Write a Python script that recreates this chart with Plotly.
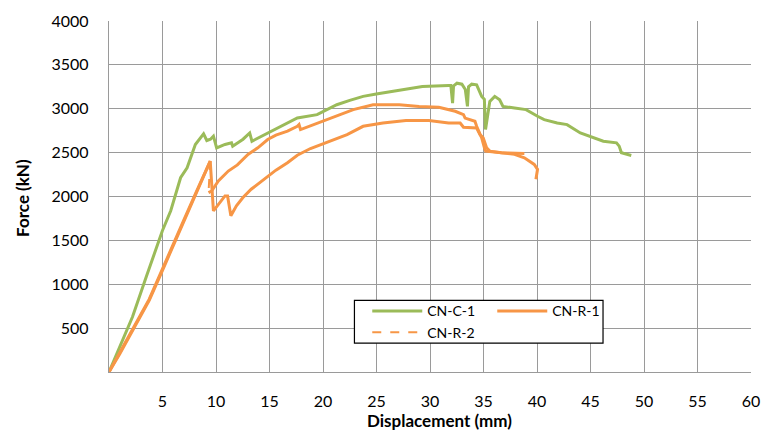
import plotly.graph_objects as go

# ---------------- data ----------------
# CN-C-1
c1_x = [0, 1.0, 2.2, 3.5, 4.99, 5.77, 6.23, 6.69, 7.30, 8.07, 8.84, 9.14, 9.48, 9.76, 10.06,
        10.84, 11.45, 11.56, 12.53, 13.15, 13.36, 14.1, 15.14, 16.4, 17.6, 19.45, 21.29, 22.5,
        23.75, 24.98, 26.83, 29.29, 31.74, 31.95, 32.11, 32.2, 32.52, 32.98, 33.3, 33.5, 33.6,
        33.9, 34.36, 34.83, 35.08, 35.19, 35.59, 36.05, 36.51, 36.82, 37.9, 38.98, 40.05,
        40.67, 41.89, 42.81, 44.05, 45.28, 46.2, 47.43, 47.68, 47.89, 48.81]
c1_y = [0, 290, 630, 1090, 1610, 1837, 2026, 2214, 2327, 2593, 2713, 2638, 2653, 2687, 2554,
        2593, 2611, 2574, 2653, 2724, 2630, 2676, 2744, 2820, 2895, 2933, 3046, 3095,
        3141, 3167, 3205, 3254, 3265, 3265, 3065, 3260, 3291, 3280, 3220, 3027, 3250,
        3280, 3273, 3141, 3107, 2763, 3084, 3141, 3103, 3027, 3008, 2990, 2914,
        2876, 2838, 2819, 2724, 2668, 2630, 2611, 2574, 2498, 2468]

# CN-R-1
r1_x = [0, 1.0, 2.22, 3.76, 4.99, 6.0, 6.99, 8.2, 9.46, 9.76, 10.3, 10.84, 11.08, 11.39,
        11.91, 12.5, 13.29, 13.91, 14.83, 15.6, 16.68, 17.6, 18.83, 20.67, 22.25, 23.75,
        25.6, 27.75, 29.9, 31.74, 32.82, 33.13, 34.36, 34.67, 34.97, 35.29, 35.59, 36.67,
        37.9, 38.82, 39.74, 40.05, 39.9]
r1_y = [0, 205, 476, 816, 1156, 1440, 1723, 2060, 2404, 1837, 1925, 2007, 2007, 1780,
        1893, 1985, 2083, 2140, 2234, 2300, 2384, 2470, 2547, 2630, 2706, 2800,
        2838, 2865, 2865, 2838, 2838, 2789, 2781, 2706, 2668, 2555, 2517, 2498,
        2480, 2441, 2366, 2310, 2196]

# CN-R-2
r2_pre_x = [0, 1.0, 2.22, 3.76, 4.99, 6.0, 6.99, 8.2, 9.46]
r2_pre_y = [0, 215, 490, 830, 1165, 1450, 1730, 2065, 2404]
r2_drop_x = [9.46, 9.3]
r2_drop_y = [2404, 2044]
r2_post_x = [9.3, 9.6, 10.22, 11.15, 12.0, 12.99, 13.91, 14.83, 15.6, 16.68, 17.6, 17.76,
             17.9, 19.14, 20.99, 22.83, 24.68, 27.13, 28.98, 30.82, 32.36, 33.13, 33.28,
             34.2, 34.36, 34.83, 35.13, 35.2, 36.67, 37.9, 38.82]
r2_post_y = [2044, 2063, 2177, 2290, 2360, 2480, 2555, 2649, 2700, 2744, 2800, 2820,
             2763, 2820, 2914, 2990, 3046, 3046, 3027, 3016, 2971, 2933, 2894,
             2857, 2800, 2668, 2536, 2517, 2498, 2490, 2490]

x_ticks = [5, 10, 15, 20, 25, 30, 35, 40, 45, 50, 55, 60]
y_ticks = [500, 1000, 1500, 2000, 2500, 3000, 3500, 4000]

GREEN = "#9BBB59"
ORANGE = "#F79646"
FONT = "Lato"
LW = 3

fig = go.Figure()
fig.add_trace(go.Scatter(x=c1_x, y=c1_y, mode="lines", name="CN-C-1",
                         line=dict(color=GREEN, width=LW), legendgroup="a"))
fig.add_trace(go.Scatter(x=r1_x, y=r1_y, mode="lines", name="CN-R-1",
                         line=dict(color=ORANGE, width=LW), legendgroup="b"))
fig.add_trace(go.Scatter(x=r2_drop_x, y=r2_drop_y, mode="lines", name="CN-R-2",
                         line=dict(color=ORANGE, width=2, dash="dash"), legendgroup="a"))
fig.add_trace(go.Scatter(x=r2_pre_x, y=r2_pre_y, mode="lines", name="CN-R-2",
                         line=dict(color=ORANGE, width=LW), legendgroup="a", showlegend=False))
fig.add_trace(go.Scatter(x=r2_post_x, y=r2_post_y, mode="lines", name="CN-R-2",
                         line=dict(color=ORANGE, width=LW), legendgroup="a", showlegend=False))

GRID = "#9a9a9a"
fig.update_xaxes(range=[0, 60], tickvals=x_ticks, showgrid=True, gridcolor=GRID, gridwidth=1.3,
                 zeroline=False, showline=True, linecolor=GRID, linewidth=1.3,
                 ticks="outside", ticklen=15, tickcolor="rgba(0,0,0,0)",
                 tickfont=dict(family=FONT, size=16, color="#000"))
fig.update_yaxes(range=[0, 4000], tickvals=y_ticks, showgrid=True, gridcolor=GRID, gridwidth=1.3,
                 zeroline=False, showline=True, linecolor=GRID, linewidth=1.3,
                 ticks="outside", ticklen=16, tickcolor="rgba(0,0,0,0)",
                 tickfont=dict(family=FONT, size=16, color="#000"))

fig.add_annotation(text="<b>Displacement (mm)</b>", xref="paper", yref="paper",
                   x=0.5154, y=-0.139, xanchor="center", yanchor="middle", showarrow=False,
                   font=dict(family=FONT, size=17, color="#000"))
fig.add_annotation(text="<b>Force (kN)</b>", xref="paper", yref="paper",
                   x=-0.134, y=0.496, xanchor="center", yanchor="middle", showarrow=False,
                   textangle=-90, font=dict(family=FONT, size=17, color="#000"))

# legend frame (px 358-610 x, 300-343 y)
PX0, PW, PY0, PH = 109.2, 650.8, 372.0, 352.7
fig.add_shape(type="rect", xref="paper", yref="paper", layer="above",
              x0=(358 - PX0) / PW, x1=(610 - PX0) / PW,
              y0=(PY0 - 343) / PH, y1=(PY0 - 300) / PH,
              fillcolor="white", line=dict(color="black", width=1.2))

fig.update_layout(
    width=771, height=432,
    margin=dict(l=109, r=11, t=19, b=60),
    paper_bgcolor="white", plot_bgcolor="white",
    legend=dict(orientation="h", traceorder="grouped",
                x=(371 - PX0) / PW, y=(PY0 - 295) / PH,
                xanchor="left", yanchor="top", bgcolor="rgba(0,0,0,0)",
                borderwidth=0, entrywidth=60, itemwidth=50,
                tracegroupgap=0,
                font=dict(family=FONT, size=14, color="#000")),
)

fig.write_html("out.html")
